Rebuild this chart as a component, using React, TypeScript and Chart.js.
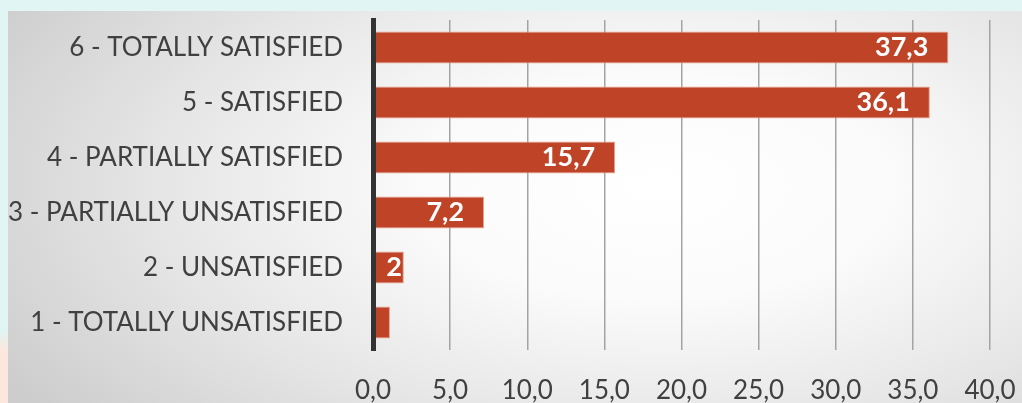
import React, { useEffect, useRef } from "react";
import { Chart, registerables } from "chart.js";

Chart.register(...registerables);

const categories = [
  "6 - TOTALLY SATISFIED",
  "5 - SATISFIED",
  "4 - PARTIALLY SATISFIED",
  "3 - PARTIALLY UNSATISFIED",
  "2 - UNSATISFIED",
  "1 - TOTALLY UNSATISFIED",
];
const values = [37.3, 36.1, 15.7, 7.2, 2, 1.1];
const labelTexts = ["37,3", "36,1", "15,7", "7,2", "2", ""];
const xTicks = [0, 5, 10, 15, 20, 25, 30, 35, 40];

const FONT = "Lato, 'Open Sans', sans-serif";

const labelPlugin = {
  id: "barLabels",
  afterDatasetsDraw(chart: any) {
    const ctx = chart.ctx;
    const meta = chart.getDatasetMeta(0);
    ctx.save();
    ctx.font = `bold 27px ${FONT}`;
    ctx.fillStyle = "#ffffff";
    ctx.textAlign = "right";
    ctx.textBaseline = "middle";
    meta.data.forEach((bar: any, i: number) => {
      const t = labelTexts[i];
      if (!t) return;
      const w = ctx.measureText(t).width;
      const barW = bar.x - bar.base;
      const pad = Math.max(2, Math.min(20, barW - w - 16));
      ctx.fillText(t, bar.x - pad, bar.y);
    });
    ctx.restore();
  },
};

export default function App() {
  const ref = useRef<HTMLCanvasElement | null>(null);
  useEffect(() => {
    if (!ref.current) return;
    const chart = new Chart(ref.current, {
      type: "bar",
      data: {
        labels: categories,
        datasets: [
          {
            data: values,
            backgroundColor: "#BF4427",
            borderColor: "#E9A290",
            borderWidth: 1,
            borderSkipped: "start",
            barPercentage: 0.58,
            categoryPercentage: 1,
          },
        ],
      },
      options: {
        indexAxis: "y",
        animation: false,
        responsive: false,
        maintainAspectRatio: false,
        layout: { padding: { top: 20, right: 32, left: 0, bottom: 0 } },
        plugins: {
          legend: { display: false },
          tooltip: { enabled: false },
        },
        scales: {
          x: {
            min: 0,
            max: 40,
            afterBuildTicks: (s: any) => {
              s.ticks = xTicks.map((v) => ({ value: v }));
            },
            afterFit: (s: any) => {
              s.height = 53;
              s.paddingLeft = 0;
              s.paddingRight = 0;
            },
            ticks: {
              padding: 25,
              color: "#404040",
              font: { family: FONT, size: 26 },
              callback: (v: any) => Number(v).toFixed(1).replace(".", ","),
              maxRotation: 0,
            },
            grid: { color: "#a3a3a3", lineWidth: 1.5, drawTicks: false },
            border: { display: false },
          },
          y: {
            afterFit: (s: any) => {
              s.width = 373;
              s.paddingTop = 0;
              s.paddingBottom = 0;
            },
            ticks: {
              padding: 30,
              color: "#404040",
              font: { family: FONT, size: 26 },
            },
            grid: { display: false, drawTicks: false },
            border: { display: true, color: "#333333", width: 5, z: 1 },
          },
        },
      },
      plugins: [labelPlugin],
    });
    return () => chart.destroy();
  }, []);

  return (
    <div
      style={{
        position: "fixed",
        left: 0,
        top: 0,
        width: 1022,
        height: 403,
        background: "#e0f5f4",
        overflow: "hidden",
      }}
    >
      <div
        style={{
          position: "absolute",
          left: 0,
          top: 330,
          width: 8,
          height: 73,
          background: "linear-gradient(180deg, #e0f5f4 0%, #fde7dc 30%, #fde7dc 100%)",
        }}
      />
      <div
        style={{
          position: "absolute",
          left: 8,
          top: 11,
          right: 0,
          bottom: 0,
          background:
            "radial-gradient(ellipse 75% 95% at 64% 45%, #ffffff 0%, #fbfbfb 30%, #e6e6e6 65%, #cdcdcd 100%)",
        }}
      />
      <canvas
        ref={ref}
        width={1022}
        height={403}
        style={{ position: "absolute", left: 0, top: 0, width: 1022, height: 403 }}
      />
    </div>
  );
}
